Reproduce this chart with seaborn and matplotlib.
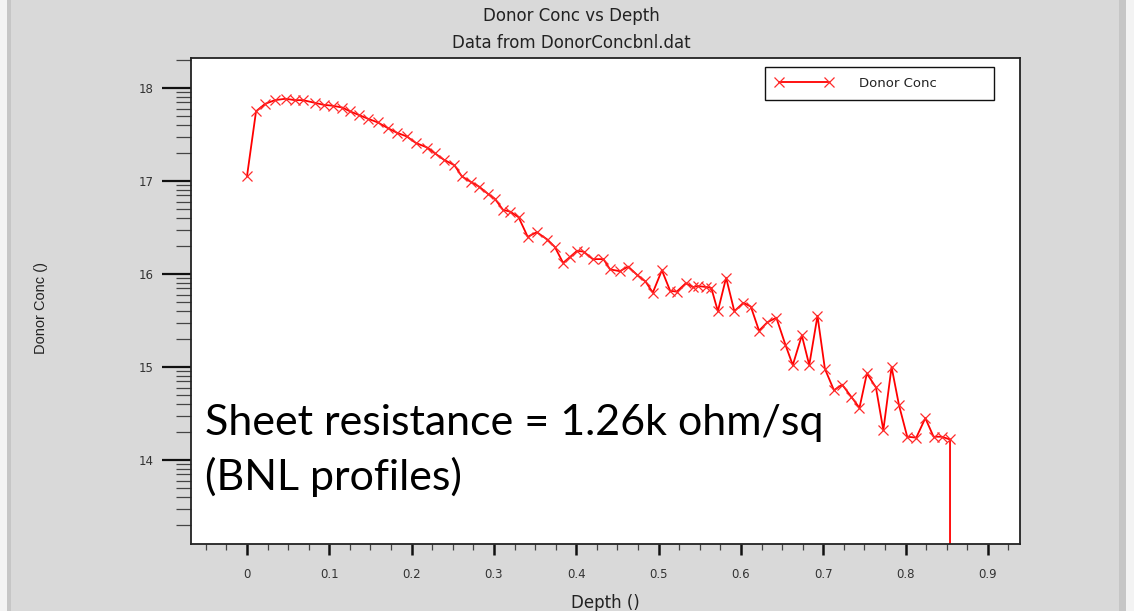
import numpy as np
import pandas as pd
import matplotlib
matplotlib.use("Agg")
import matplotlib.pyplot as plt
from matplotlib.patches import Rectangle
from matplotlib.ticker import FixedLocator, MultipleLocator
import seaborn as sns

# Donor concentration profile (log10 of concentration) versus depth
depth = [0.000, 0.011, 0.022, 0.034, 0.047, 0.058, 0.068, 0.083, 0.093, 0.104,
         0.116, 0.125, 0.136, 0.147, 0.159, 0.171, 0.182, 0.194, 0.205,
         0.219, 0.228, 0.239, 0.252, 0.261, 0.272, 0.282, 0.293, 0.301, 0.311,
         0.320, 0.330, 0.341, 0.352, 0.365, 0.374, 0.384, 0.392, 0.401, 0.409,
         0.420, 0.433, 0.441, 0.453, 0.463, 0.474, 0.484, 0.493, 0.504, 0.514,
         0.522, 0.533, 0.542, 0.548, 0.558, 0.564, 0.572, 0.582, 0.592, 0.603,
         0.612, 0.622, 0.632, 0.643, 0.654, 0.663, 0.674, 0.683, 0.693, 0.702,
         0.713, 0.723, 0.734, 0.744, 0.753, 0.764, 0.773, 0.783, 0.792, 0.802,
         0.813, 0.824, 0.834, 0.844, 0.854, 0.854]
donor_conc = [17.05, 17.75, 17.83, 17.87, 17.885, 17.87, 17.87, 17.84, 17.82, 17.81,
              17.79, 17.75, 17.71, 17.67, 17.63, 17.57, 17.52, 17.48, 17.41,
              17.36, 17.30, 17.23, 17.17, 17.05, 16.99, 16.94, 16.86, 16.81, 16.69,
              16.67, 16.61, 16.40, 16.45, 16.37, 16.29, 16.12, 16.18, 16.25, 16.24,
              16.16, 16.16, 16.05, 16.03, 16.08, 15.99, 15.92, 15.80, 16.04, 15.82,
              15.81, 15.90, 15.86, 15.87, 15.86, 15.85, 15.60, 15.96, 15.60, 15.69,
              15.65, 15.39, 15.48, 15.53, 15.24, 15.02, 15.34, 15.02, 15.55, 14.98,
              14.75, 14.81, 14.68, 14.56, 14.93, 14.78, 14.32, 15.00, 14.59, 14.25,
              14.24, 14.45, 14.25, 14.25, 14.22, 12.9]

x_ticks = [0.0, 0.1, 0.2, 0.3, 0.4, 0.5, 0.6, 0.7, 0.8, 0.9]
x_tick_labels = ["0", "0.1", "0.2", "0.3", "0.4", "0.5", "0.6", "0.7", "0.8", "0.9"]
y_ticks = [14, 15, 16, 17, 18]
y_tick_labels = ["14", "15", "16", "17", "18"]

title = "Donor Conc vs Depth"
subtitle = "Data from DonorConcbnl.dat"
x_label = "Depth ()"
y_label = "Donor Conc ()"
series_name = "Donor Conc"
note_lines = ["Sheet resistance = 1.26k ohm/sq", "(BNL profiles)"]

sns.set_theme(style="ticks")
plt.rcParams["font.family"] = ["DejaVu Sans"]

W, H = 1134, 611
fig = plt.figure(figsize=(W / 100, H / 100), dpi=100)
fig.patch.set_facecolor("#d9d9d9")

# thin frame strips at the left and right edges of the window
for x0, x1, c in [(0, 7, "#f3f3f3"), (7, 11, "#c6c6c6"),
                  (1119, 1126, "#c6c6c6"), (1126, 1134, "#f3f3f3")]:
    fig.add_artist(Rectangle((x0 / W, 0), (x1 - x0) / W, 1,
                             transform=fig.transFigure, color=c, lw=0, zorder=0))

left, right, top, bottom = 191, 1020, 58.3, 544
ax = fig.add_axes([left / W, 1 - bottom / H, (right - left) / W, (bottom - top) / H])
ax.set_facecolor("white")

df = pd.DataFrame({"depth": depth, "conc": donor_conc})
sns.lineplot(data=df, x="depth", y="conc", estimator=None, sort=False,
             color="#ff0000", linewidth=1.3, marker="x", markersize=7.5,
             markeredgewidth=0.9, markeredgecolor="#ff2a2a",
             label=series_name, ax=ax)

ax.set_xlim(-0.068, 0.939)
ax.set_ylim(13.096, 18.32)

ax.xaxis.set_major_locator(FixedLocator(x_ticks))
ax.set_xticklabels(x_tick_labels)
ax.xaxis.set_minor_locator(MultipleLocator(0.025))

ax.yaxis.set_major_locator(FixedLocator(y_ticks))
ax.set_yticklabels(y_tick_labels)
minor_y = [d + np.log10(k) for d in range(13, 19) for k in range(2, 10)]
ax.yaxis.set_minor_locator(FixedLocator(minor_y))

ax.tick_params(axis="both", which="both", direction="out", color="#111111",
               labelcolor="#333333")
ax.tick_params(axis="y", which="major", length=21, width=1.6, pad=6, labelsize=8.5)
ax.tick_params(axis="y", which="minor", length=10.5, width=0.9, color="#444444")
ax.tick_params(axis="x", which="major", length=8, width=1.8, pad=9, labelsize=8.5)
ax.tick_params(axis="x", which="minor", length=4.5, width=0.9, color="#444444")

for side in ["left", "right", "top", "bottom"]:
    ax.spines[side].set_visible(True)
    ax.spines[side].set_color("#222222")
    ax.spines[side].set_linewidth(1.3)

ax.set_xlabel("")
ax.set_ylabel("")

leg = ax.legend(loc="upper left", mode="expand",
                bbox_to_anchor=((765 - left) / (right - left), (bottom - 104) / (bottom - top),
                                (994 - 765) / (right - left), (104 - 67) / (bottom - top)),
                borderaxespad=0, frameon=True, fancybox=False, framealpha=1,
                edgecolor="#111111", fontsize=9.5, numpoints=2, handlelength=4.4,
                handletextpad=2.0, borderpad=0.75)
leg.get_frame().set_linewidth(1.0)
for t in leg.get_texts():
    t.set_color("#222222")

# titles and axis labels
fig.text(571 / W, 1 - 16 / H, title, ha="center", va="center", fontsize=12, color="#222222")
fig.text(571 / W, 1 - 43 / H, subtitle, ha="center", va="center", fontsize=12, color="#222222")
fig.text(605 / W, 1 - 603 / H, x_label, ha="center", va="center", fontsize=12, color="#222222")
fig.text(41 / W, 1 - 308 / H, y_label, ha="center", va="center", rotation=90,
         fontsize=10.5, color="#222222",
         family=["Liberation Sans Narrow", "Liberation Sans", "DejaVu Sans"])

# annotation about the sheet resistance
fig.text(205 / W, 1 - 435 / H, note_lines[0], ha="left", va="baseline",
         fontsize=31, color="black", family=["Lato", "DejaVu Sans"])
fig.text(205 / W, 1 - 490 / H, note_lines[1], ha="left", va="baseline",
         fontsize=31, color="black", family=["Lato", "DejaVu Sans"])

fig.savefig("out.png", dpi=100, facecolor=fig.get_facecolor())
